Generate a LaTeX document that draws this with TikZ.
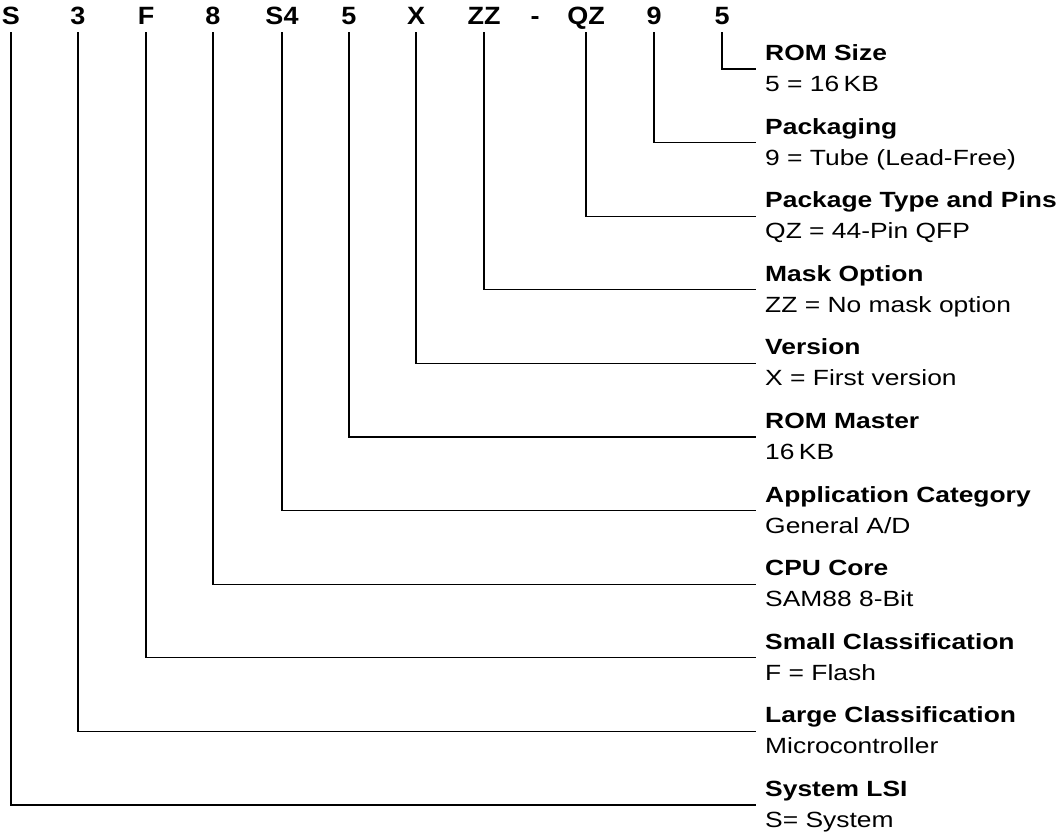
\documentclass[tikz,border=0pt]{standalone}
\usepackage{fontspec}
\setmainfont{Liberation Sans}
\usepackage{graphicx}
\newcommand{\hwideA}[1]{\scalebox{1.2}[1]{#1}}
\newcommand{\hwideB}[1]{\scalebox{1.08}[1]{#1}}
\tikzset{
  code/.style={font=\fontsize{25}{25}\selectfont\bfseries, anchor=base,
    inner sep=0pt, text depth=0pt, outer ysep=8pt},
  ttl/.style={font=\fontsize{22}{22}\selectfont\bfseries, anchor=base west, inner sep=0pt},
  subt/.style={font=\fontsize{22}{22}\selectfont, anchor=base west, inner sep=0pt},
  conn/.style={line width=1.1pt, black},
}
\begin{document}
\begin{tikzpicture}[x=1pt,y=-1pt]
\useasboundingbox (0,0) rectangle (1064,835);
% code letters
\node[code] (lS)  at (11,24)  {\hwideB{S}};
\node[code] (l3)  at (78,24)  {\hwideB{3}};
\node[code] (lF)  at (146,24) {\hwideB{F}};
\node[code] (l8)  at (213,24) {\hwideB{8}};
\node[code] (lS4) at (282,24) {\hwideB{S4}};
\node[code] (l5a) at (349,24) {\hwideB{5}};
\node[code] (lX)  at (416,24) {\hwideB{X}};
\node[code] (lZZ) at (484,24) {\hwideB{ZZ}};
\node[code] (ldash) at (535,24) {\hwideB{-}};
\node[code] (lQZ) at (586,24) {\hwideB{QZ}};
\node[code] (l9)  at (654,24) {\hwideB{9}};
\node[code] (l5b) at (722,24) {\hwideB{5}};
% descriptions
\foreach \i/\src/\t/\s in {
  0/l5b/{ROM Size}/{5 = 16\,KB},
  1/l9/{Packaging}/{9 = Tube (Lead-Free)},
  2/lQZ/{Package Type and Pins}/{QZ = 44-Pin QFP},
  3/lZZ/{Mask Option}/{ZZ = No mask option},
  4/lX/{Version}/{X = First version},
  5/l5a/{ROM Master}/{16\,KB},
  6/lS4/{Application Category}/{General A/D},
  7/l8/{CPU Core}/{SAM88 8-Bit},
  8/lF/{Small Classification}/{F = Flash},
  9/l3/{Large Classification}/{Microcontroller},
  10/lS/{System LSI}/{S= System}}{
  \pgfmathsetmacro{\yy}{69+73.6*\i}
  \coordinate (c\i) at (756,\yy);
  \node[ttl]  (t\i) at (765,\yy-8.5)  {\hwideA{\t}};
  \node[subt] (s\i) at (765,\yy+22.5) {\hwideA{\s}};
  \draw[conn] (\src.south) |- (c\i);
}
\end{tikzpicture}
\end{document}
